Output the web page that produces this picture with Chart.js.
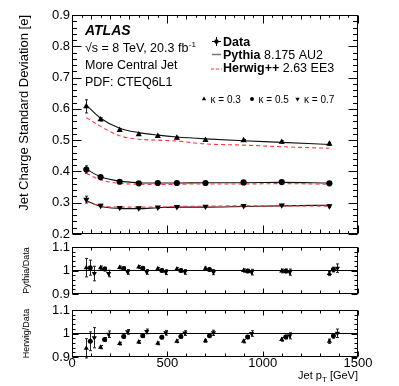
<!DOCTYPE html>
<html>
<head>
<meta charset="utf-8">
<script src="https://cdn.jsdelivr.net/npm/chart.js@4.4.1/dist/chart.umd.min.js"></script>
<style>
  html, body { margin: 0; padding: 0; background: #fff; }
  #wrap { position: relative; width: 399px; height: 386px; background: #fff; }
  #wrap canvas { position: absolute; left: 0; top: 0; }
</style>
</head>
<body>
<div id="wrap">
  <canvas id="mainChart" width="399" height="386"></canvas>
  <canvas id="pythiaChart" width="399" height="386"></canvas>
  <canvas id="herwigChart" width="399" height="386"></canvas>
</div>
<script>
const FONT = '"Liberation Sans", Arial, Helvetica, sans-serif';
Chart.defaults.font.family = FONT;
Chart.defaults.color = "#000";

// jet pT bin centres [GeV]
const ptBins = [75, 150, 250, 350, 450, 550, 700, 900, 1100, 1350];

// unfolded data, jet charge std. deviation
const dataK03 = [0.608, 0.566, 0.532, 0.518, 0.513, 0.507, 0.500, 0.499, 0.494, 0.488];
const dataK05 = [0.406, 0.382, 0.367, 0.362, 0.363, 0.363, 0.363, 0.365, 0.366, 0.362];
const dataK07 = [0.310, 0.291, 0.284, 0.283, 0.285, 0.287, 0.288, 0.290, 0.292, 0.289];
const errK03 = [0.021, 0.005, 0.004, 0.003, 0.003, 0.003, 0.003, 0.003, 0.004, 0.005];
const errK05 = [0.012, 0.004, 0.003, 0.003, 0.003, 0.003, 0.003, 0.003, 0.003, 0.004];
const errK07 = [0.011, 0.004, 0.003, 0.003, 0.003, 0.003, 0.003, 0.003, 0.003, 0.004];

// MC predictions
const pythiaK03 = [0.612, 0.570, 0.538, 0.524, 0.516, 0.510, 0.504, 0.498, 0.493, 0.486];
const pythiaK05 = [0.407, 0.383, 0.369, 0.364, 0.363, 0.363, 0.364, 0.364, 0.365, 0.363];
const pythiaK07 = [0.306, 0.288, 0.282, 0.281, 0.284, 0.286, 0.286, 0.288, 0.290, 0.292];
const herwigK03 = [0.572, 0.544, 0.514, 0.503, 0.500, 0.497, 0.488, 0.484, 0.479, 0.474];
const herwigK05 = [0.394, 0.373, 0.362, 0.359, 0.358, 0.359, 0.360, 0.360, 0.361, 0.359];
const herwigK07 = [0.304, 0.290, 0.286, 0.286, 0.286, 0.288, 0.289, 0.290, 0.290, 0.289];

// MC / data ratios
const pythiaRatioK03 = [1.012, 1.012, 1.013, 1.015, 1.007, 1.006, 1.009, 1.000, 0.998, 0.987];
const pythiaRatioK05 = [1.012, 1.006, 1.009, 1.010, 1.000, 1.000, 1.004, 0.998, 0.998, 1.004];
const pythiaRatioK07 = [0.987, 0.987, 0.994, 0.994, 0.993, 0.994, 0.993, 0.993, 0.993, 1.010];
const pythiaErrK03 = [0.039, 0.007, 0.006, 0.006, 0.006, 0.006, 0.006, 0.007, 0.008, 0.009];
const pythiaErrK05 = [0.032, 0.008, 0.006, 0.006, 0.006, 0.006, 0.006, 0.007, 0.008, 0.010];
const pythiaErrK07 = [0.031, 0.014, 0.010, 0.010, 0.010, 0.010, 0.011, 0.012, 0.013, 0.018];

const herwigRatioK03 = [0.937, 0.942, 0.957, 0.964, 0.958, 0.967, 0.969, 0.967, 0.975, 0.967];
const herwigRatioK05 = [0.967, 0.975, 0.987, 0.990, 0.984, 0.987, 0.990, 0.985, 0.985, 0.990];
const herwigRatioK07 = [0.982, 0.997, 1.007, 1.009, 1.003, 1.002, 1.003, 1.000, 0.990, 1.001];
const herwigErrK03 = [0.041, 0.007, 0.006, 0.006, 0.006, 0.006, 0.006, 0.007, 0.008, 0.009];
const herwigErrK05 = [0.040, 0.008, 0.006, 0.006, 0.006, 0.006, 0.006, 0.007, 0.008, 0.010];
const herwigErrK07 = [0.043, 0.014, 0.010, 0.010, 0.010, 0.010, 0.011, 0.012, 0.013, 0.018];

const refLineX = [0, 1500];
const refLineY = [1, 1];

// axis ticks
const xTicks = [0, 500, 1000, 1500];
const mainYTicks = [0.2, 0.3, 0.4, 0.5, 0.6, 0.7, 0.8, 0.9];
const mainYLabels = ["0.2", "0.3", "0.4", "0.5", "0.6", "0.7", "0.8", "0.9"];
const ratioYTicks = [0.9, 1, 1.1];
const ratioYLabels = ["0.9", "1", "1.1"];

// marker per kappa (triangle up, circle, triangle down)
const markers = [
  { style: "triangle", rot: 0 },
  { style: "circle", rot: 0 },
  { style: "triangle", rot: 180 },
];
const kappaShift = 21; // GeV, horizontal offset of markers in ratio panels
const red = "rgb(255,55,55)";

function pointSet(ys, errs, k, shift, r) {
  return {
    data: ptBins.map((x, i) => ({ x: x + shift, y: ys[i] })),
    errors: errs,
    showLine: false,
    pointStyle: markers[k].style,
    pointRotation: markers[k].rot,
    pointRadius: markers[k].style === "circle" ? r - 0.5 : r,
    backgroundColor: "#000",
    borderColor: "#000",
    borderWidth: 0,
    order: 0,
  };
}

function curve(ys, color, dash, order) {
  return {
    data: ptBins.map((x, i) => ({ x: x, y: ys[i] })),
    borderColor: color,
    borderWidth: 1.1,
    borderDash: dash,
    pointRadius: 0,
    cubicInterpolationMode: "monotone",
    fill: false,
    order: order,
  };
}

// vertical error bars with little caps
const errorBars = {
  id: "errorBars",
  beforeDatasetsDraw(chart) {
    const { ctx, scales: { y } } = chart;
    ctx.save();
    ctx.strokeStyle = "#222";
    ctx.lineWidth = 1;
    chart.data.datasets.forEach((ds, i) => {
      if (!ds.errors) return;
      chart.getDatasetMeta(i).data.forEach((pt, j) => {
        const e = ds.errors[j];
        const x = Math.round(pt.x) + 0.5;
        const y1 = y.getPixelForValue(ds.data[j].y + e);
        const y2 = y.getPixelForValue(ds.data[j].y - e);
        ctx.beginPath();
        ctx.moveTo(x, y1); ctx.lineTo(x, y2);
        ctx.moveTo(x - 1.5, y1); ctx.lineTo(x + 1.5, y1);
        ctx.moveTo(x - 1.5, y2); ctx.lineTo(x + 1.5, y2);
        ctx.stroke();
      });
    });
    ctx.restore();
  },
};

// ROOT style closed frame with inward ticks on all four sides
function rootFrame(cfg) {
  return {
    id: "rootFrame",
    afterDraw(chart) {
      const { ctx, chartArea: a, scales: { x, y } } = chart;
      const L = Math.round(a.left) + 0.5, R = Math.round(a.right) - 0.5;
      const T = Math.round(a.top) + 0.5, B = Math.round(a.bottom) - 0.5;
      ctx.save();
      ctx.strokeStyle = "#000";
      ctx.lineWidth = 1;
      ctx.strokeRect(L, T, R - L, B - T);
      ctx.beginPath();
      for (let v = 0; v <= 1500; v += 50) {
        const len = v % 500 === 0 ? cfg.xLen[0] : v % 100 === 0 ? cfg.xLen[1] : cfg.xLen[2];
        if (!len) continue;
        const px = Math.round(x.getPixelForValue(v)) + 0.5;
        ctx.moveTo(px, B); ctx.lineTo(px, B - len);
        ctx.moveTo(px, T); ctx.lineTo(px, T + len);
      }
      const n = Math.round((cfg.yMax - cfg.yMin) / cfg.yStep);
      for (let i = 0; i <= n; i++) {
        const len = i % cfg.yEvery === 0 ? cfg.yLen[0] : cfg.yLen[1];
        const py = Math.round(y.getPixelForValue(cfg.yMin + i * cfg.yStep)) + 0.5;
        ctx.moveTo(L, py); ctx.lineTo(L + len, py);
        ctx.moveTo(R, py); ctx.lineTo(R - len, py);
      }
      ctx.stroke();
      ctx.restore();
    },
  };
}

function txt(ctx, s, x, y, font) {
  ctx.font = font;
  ctx.fillText(s, x, y);
  return ctx.measureText(s).width;
}

function marker(ctx, style, rot, x, y, r) {
  ctx.beginPath();
  if (style === "circle") {
    ctx.arc(x, y, r, 0, Math.PI * 2);
  } else {
    let a = rot * Math.PI / 180;
    ctx.moveTo(x + Math.sin(a) * r, y - Math.cos(a) * r);
    a += Math.PI * 2 / 3;
    ctx.lineTo(x + Math.sin(a) * r, y - Math.cos(a) * r);
    a += Math.PI * 2 / 3;
    ctx.lineTo(x + Math.sin(a) * r, y - Math.cos(a) * r);
    ctx.closePath();
  }
  ctx.fill();
}

const labels = {
  id: "labels",
  afterDraw(chart) {
    const ctx = chart.ctx;
    ctx.save();
    ctx.fillStyle = "#000";
    ctx.strokeStyle = "#000";
    ctx.textAlign = "left";
    ctx.textBaseline = "alphabetic";
    const f = (s, w) => `${w || ""} ${s}px ${FONT}`;

    txt(ctx, "ATLAS", 85, 35, "italic bold 14px " + FONT);
    let w = txt(ctx, "\u221As = 8 TeV, 20.3 fb", 85, 52, f(12.5));
    txt(ctx, "-1", 85 + w + 0.5, 46.5, f(8));
    txt(ctx, "More Central Jet", 85, 68.5, f(12.5));
    txt(ctx, "PDF: CTEQ6L1", 85, 85.5, f(12.5));

    // legend
    ctx.lineWidth = 1;
    ctx.beginPath();
    ctx.moveTo(212, 41.5); ctx.lineTo(221, 41.5);
    ctx.moveTo(216.5, 37); ctx.lineTo(216.5, 46);
    ctx.stroke();
    marker(ctx, "circle", 0, 216.5, 41.5, 2.2);
    txt(ctx, "Data", 223, 45.5, f(12.5, "bold"));

    ctx.strokeStyle = "#777";
    ctx.lineWidth = 1.5;
    ctx.beginPath();
    ctx.moveTo(212, 54.5); ctx.lineTo(221, 54.5);
    ctx.stroke();
    w = txt(ctx, "Pythia", 223, 58.5, f(12.5, "bold"));
    txt(ctx, " 8.175 AU2", 223 + w, 58.5, f(12.5));

    ctx.strokeStyle = red;
    ctx.lineWidth = 1;
    ctx.setLineDash([3, 2]);
    ctx.beginPath();
    ctx.moveTo(211, 69); ctx.lineTo(222, 69);
    ctx.stroke();
    ctx.setLineDash([]);
    w = txt(ctx, "Herwig++", 223, 72, f(12.5, "bold"));
    txt(ctx, " 2.63 EE3", 223 + w, 72, f(12.5));

    // kappa key
    const key = [[204, "\u03BA = 0.3"], [252, "\u03BA = 0.5"], [297.5, "\u03BA = 0.7"]];
    key.forEach((k, i) => {
      marker(ctx, markers[i].style, markers[i].rot, k[0], 99, markers[i].style === "circle" ? 2 : 2.5);
      txt(ctx, k[1], k[0] + 6.5, 103, f(10));
    });
    ctx.restore();
  },
};

const xTitle = {
  id: "xTitle",
  afterDraw(chart) {
    const ctx = chart.ctx;
    ctx.save();
    ctx.fillStyle = "#000";
    ctx.textAlign = "left";
    ctx.textBaseline = "alphabetic";
    const big = "11px " + FONT, small = "8px " + FONT;
    ctx.font = big;
    const w1 = ctx.measureText("Jet p").width, w3 = ctx.measureText(" [GeV]").width;
    ctx.font = small;
    const w2 = ctx.measureText("T").width;
    let x = chart.chartArea.right - (w1 + w2 + w3);
    x += txt(ctx, "Jet p", x, 378.5, big);
    x += txt(ctx, "T", x, 382, small);
    txt(ctx, " [GeV]", x, 378.5, big);
    ctx.restore();
  },
};

function yScale(min, max, ticks, tickLabels, title) {
  return {
    type: "linear",
    min: min,
    max: max,
    afterFit: (s) => { s.width = 72; },
    afterBuildTicks: (s) => { s.ticks = ticks.map((v) => ({ value: v })); },
    grid: { display: false, drawTicks: false },
    border: { display: false },
    ticks: {
      padding: 2,
      color: "#000",
      font: { size: 13, lineHeight: 1 },
      callback: (v, i) => tickLabels[i],
    },
    title: title,
  };
}

function xScale(show) {
  return {
    type: "linear",
    min: 0,
    max: 1500,
    display: show,
    afterFit: (s) => { s.height = show ? 29 : 0; },
    afterBuildTicks: (s) => { s.ticks = xTicks.map((v) => ({ value: v })); },
    grid: { display: false, drawTicks: false },
    border: { display: false },
    ticks: {
      padding: 0,
      color: "#000",
      autoSkip: false,
      maxRotation: 0,
      font: { size: 13, lineHeight: 1 },
      callback: (v) => String(v),
    },
  };
}

const common = {
  responsive: false,
  animation: false,
  events: [],
  plugins: { legend: { display: false }, tooltip: { enabled: false } },
};

new Chart(document.getElementById("mainChart"), {
  type: "line",
  data: {
    datasets: [
      pointSet(dataK03, errK03, 0, 0, 3.6),
      pointSet(dataK05, errK05, 1, 0, 3.6),
      pointSet(dataK07, errK07, 2, 0, 3.6),
      curve(herwigK03, red, [4, 3], 1),
      curve(herwigK05, red, [4, 3], 1),
      curve(herwigK07, red, [4, 3], 1),
      curve(pythiaK03, "#111", [], 2),
      curve(pythiaK05, "#111", [], 2),
      curve(pythiaK07, "#111", [], 2),
    ],
  },
  options: {
    ...common,
    layout: { padding: { top: 15, bottom: 152, left: 0, right: 41 } },
    scales: {
      x: xScale(false),
      y: yScale(0.2, 0.9, mainYTicks, mainYLabels, {
        display: true,
        text: "Jet Charge Standard Deviation [e]",
        align: "end",
        color: "#000",
        font: { size: 13, lineHeight: 1.2 },
        padding: { top: 17, bottom: 0 },
      }),
    },
  },
  plugins: [errorBars, rootFrame({ xLen: [8, 4, 2.3], yMin: 0.2, yMax: 0.9, yStep: 0.02, yEvery: 5, yLen: [9, 4.5] }), labels],
});

function ratioChart(id, title, r03, r05, r07, e03, e05, e07, padding, showX, extra) {
  const plugins = [errorBars, rootFrame({ xLen: [5, 3, 0], yMin: 0.9, yMax: 1.1, yStep: 0.02, yEvery: 5, yLen: [6, 3] })];
  if (extra) plugins.push(extra);
  return new Chart(document.getElementById(id), {
    type: "line",
    data: {
      datasets: [
        pointSet(r03, e03, 0, 0, 3),
        pointSet(r05, e05, 1, kappaShift, 3),
        pointSet(r07, e07, 2, 2 * kappaShift, 3),
        {
          data: refLineX.map((x, i) => ({ x: x, y: refLineY[i] })),
          borderColor: "#000",
          borderWidth: 1,
          pointRadius: 0,
          order: 3,
        },
      ],
    },
    options: {
      ...common,
      layout: { padding: padding },
      scales: {
        x: xScale(showX),
        y: yScale(0.9, 1.1, ratioYTicks, ratioYLabels, {
          display: true,
          text: title,
          align: "center",
          color: "#000",
          font: { size: 9, lineHeight: 1.2 },
          padding: { top: 21, bottom: 0 },
        }),
      },
    },
    plugins: plugins,
  });
}

ratioChart("pythiaChart", "Pythia/Data", pythiaRatioK03, pythiaRatioK05, pythiaRatioK07,
  pythiaErrK03, pythiaErrK05, pythiaErrK07, { top: 247, bottom: 92, left: 0, right: 41 }, false);
ratioChart("herwigChart", "Herwig/Data", herwigRatioK03, herwigRatioK05, herwigRatioK07,
  herwigErrK03, herwigErrK05, herwigErrK07, { top: 310, bottom: 0, left: 0, right: 41 }, true, xTitle);
</script>
</body>
</html>
